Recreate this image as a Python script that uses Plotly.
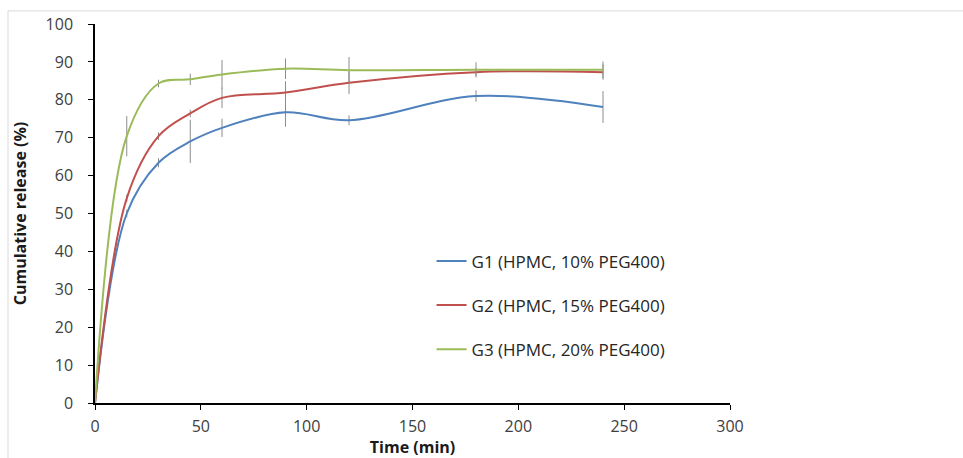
import plotly.graph_objects as go

time_min = [0, 15, 30, 45, 60, 90, 120, 180, 240]
g1 = [0, 50.0, 63.4, 69.0, 72.6, 76.7, 74.6, 81.0, 78.1]
g2 = [0, 54.0, 70.4, 76.4, 80.5, 81.9, 84.5, 87.3, 87.3]
g3 = [0, 70.4, 84.3, 85.4, 86.7, 88.2, 87.8, 87.9, 87.9]
g1_err = [0, 1.0, 1.2, 5.7, 2.4, 3.8, 1.3, 1.5, 4.2]
g2_err = [0, 1.0, 1.0, 1.0, 2.7, 3.0, 3.0, 1.0, 2.0]
g3_err = [0, 5.3, 1.0, 1.5, 3.8, 2.7, 3.5, 2.0, 2.2]
names = ["G1 (HPMC, 10% PEG400)", "G2 (HPMC, 15% PEG400)", "G3 (HPMC, 20% PEG400)"]
colors = ["#4F81BD", "#C0504D", "#9BBB59"]

FONT = "Open Sans, DejaVu Sans, sans-serif"

fig = go.Figure()
for i, (y, e) in enumerate([(g1, g1_err), (g2, g2_err), (g3, g3_err)]):
    fig.add_trace(go.Scatter(
        x=time_min, y=y, name=names[i], mode="lines",
        line=dict(color=colors[i], width=2, shape="spline", smoothing=1.0),
        error_y=dict(type="data", array=e, visible=True, color="#8C8C8C", thickness=1, width=0),
        legendgroup=f"g{i}",
    ))

fig.update_layout(
    width=963, height=458,
    margin=dict(l=95, r=233, t=24, b=55),
    paper_bgcolor="white", plot_bgcolor="white",
    font=dict(family=FONT, size=16, color="#404040"),
    showlegend=True,
    legend=dict(x=0.53, y=0.421, xanchor="left", yanchor="top",
                traceorder="grouped", tracegroupgap=19, itemwidth=30,
                font=dict(family=FONT, size=17, color="#262626"),
                bgcolor="rgba(0,0,0,0)"),
    xaxis=dict(range=[0, 300], tickvals=[0, 50, 100, 150, 200, 250, 300], automargin=False,
               showgrid=False, zeroline=False, showline=True, linecolor="#000000", linewidth=1.5,
               ticks="outside", ticklen=5, tickcolor="#000000", ticklabelstandoff=3,
               tickfont=dict(family=FONT, size=16, color="#404040"),
               title=dict(text="<b>Time (min)</b>", font=dict(family=FONT, size=16, color="#1a1a1a"))),
    yaxis=dict(range=[0, 100], tickvals=list(range(0, 101, 10)), automargin=False,
               showgrid=False, zeroline=False, showline=True, linecolor="#000000", linewidth=1.5,
               ticks="outside", ticklen=5, tickcolor="#000000", ticklabelstandoff=12,
               tickfont=dict(family=FONT, size=16, color="#404040"),
               title=dict(text="<b>Cumulative release (%)</b>", font=dict(family=FONT, size=16, color="#1a1a1a"))),
    shapes=[dict(type="rect", xref="paper", yref="paper",
                 x0=-0.137, x1=1.5, y0=-0.2, y1=1.0345,
                 line=dict(color="#D9D9D9", width=1), fillcolor="rgba(0,0,0,0)", layer="below")],
)
fig.write_html("out.html")
